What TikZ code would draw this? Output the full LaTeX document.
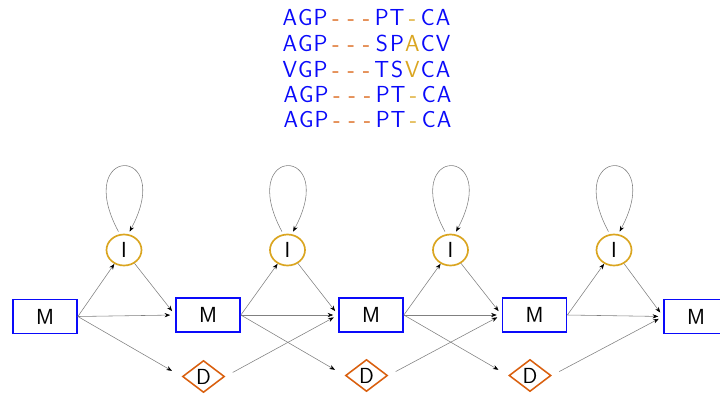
\documentclass[tikz,border=0pt]{standalone}
\usepackage{tikz}
\usetikzlibrary{shapes.geometric,arrows.meta}

\definecolor{matchblue}{RGB}{10,10,250}
\definecolor{delorange}{RGB}{217,95,14}
\definecolor{insgold}{RGB}{218,165,32}

% one column of the alignment, in blue, orange or gold
\def\seqB#1{\makebox[0.3825cm][c]{\color{matchblue}#1}}
\def\seqO#1{\makebox[0.3825cm][c]{\color{delorange}#1}}
\def\seqG#1{\makebox[0.3825cm][c]{\color{insgold}#1}}

\tikzset{
	alnrow/.style={font=\sffamily\fontsize{16.5}{19}\selectfont, inner sep=0pt},
	mstate/.style={draw=matchblue, line width=1.2pt, minimum width=1.6cm, minimum height=0.85cm, inner sep=0pt, font=\sffamily\fontsize{15.5}{18}\selectfont},
	istate/.style={ellipse, draw=insgold, line width=1.2pt, minimum width=0.875cm, minimum height=0.775cm, inner sep=0pt, font=\sffamily\fontsize{15.5}{18}\selectfont},
	dstate/.style={diamond, draw=delorange, line width=1.1pt, minimum width=1.05cm, minimum height=0.8cm, inner sep=0pt, font=\sffamily\fontsize{15.5}{18}\selectfont},
	trans/.style={draw=black!50, line width=0.4pt, -{Stealth[length=4pt, width=3pt, color=black]}},
	tomatch/.style={trans, shorten >=3.5pt},
	todel/.style={trans, shorten >=8pt},
	fromdel/.style={trans, shorten <=6pt, shorten >=3.5pt},
}

\begin{document}
\begin{tikzpicture}[x=0.025cm, y=-0.025cm]
			%%%%% START %%%%%
			\useasboundingbox (0, 0) rectangle (720, 394);
			
			\node[alnrow] (row1) at (366.5, 17.5) {\seqB{A}\seqB{G}\seqB{P}\seqO{-}\seqO{-}\seqO{-}\seqB{P}\seqB{T}\seqG{-}\seqB{C}\seqB{A}};
			\node[alnrow] (row2) at (366.5, 43) {\seqB{A}\seqB{G}\seqB{P}\seqO{-}\seqO{-}\seqO{-}\seqB{S}\seqB{P}\seqG{A}\seqB{C}\seqB{V}};
			\node[alnrow] (row3) at (366.5, 69) {\seqB{V}\seqB{G}\seqB{P}\seqO{-}\seqO{-}\seqO{-}\seqB{T}\seqB{S}\seqG{V}\seqB{C}\seqB{A}};
			\node[alnrow] (row4) at (367.5, 95) {\seqB{A}\seqB{G}\seqB{P}\seqO{-}\seqO{-}\seqO{-}\seqB{P}\seqB{T}\seqG{-}\seqB{C}\seqB{A}};
			\node[alnrow] (row5) at (367.5, 119.5) {\seqB{A}\seqB{G}\seqB{P}\seqO{-}\seqO{-}\seqO{-}\seqB{P}\seqB{T}\seqG{-}\seqB{C}\seqB{A}};
			
			\node[mstate] (m1) at (45, 316.5) {M};
			\node[mstate] (m2) at (208, 315) {M};
			\node[mstate] (m3) at (371, 315) {M};
			\node[mstate] (m4) at (534.5, 315) {M};
			\node[mstate] (m5) at (696, 316.5) {M};
			
			\node[istate] (i1) at (124, 250) {I};
			\node[istate] (i2) at (287.5, 250) {I};
			\node[istate] (i3) at (450.5, 250) {I};
			\node[istate] (i4) at (614, 250) {I};
			
			\node[dstate] (d1) at (203.5, 376.5) {D};
			\node[dstate] (d2) at (366.5, 375.5) {D};
			\node[dstate] (d3) at (530, 375.5) {D};
			
			\draw[trans] (m1.east) -- (i1);
			\draw[tomatch] (i1) -- (m2.west);
			\draw[tomatch] (m1.east) -- (m2.west);
			\draw[todel] (m1.east) -- (d1.west);
			\draw[fromdel] (d1.east) -- (m3.west);
			\draw[trans, shorten <=2pt, shorten >=2pt] (i1.105) .. controls +(-48, -90) and +(48, -90) .. (i1.75);
			
			\draw[trans] (m2.east) -- (i2);
			\draw[tomatch] (i2) -- (m3.west);
			\draw[tomatch] (m2.east) -- (m3.west);
			\draw[todel] (m2.east) -- (d2.west);
			\draw[fromdel] (d2.east) -- (m4.west);
			\draw[trans, shorten <=2pt, shorten >=2pt] (i2.105) .. controls +(-48, -90) and +(48, -90) .. (i2.75);
			
			\draw[trans] (m3.east) -- (i3);
			\draw[tomatch] (i3) -- (m4.west);
			\draw[tomatch] (m3.east) -- (m4.west);
			\draw[todel] (m3.east) -- (d3.west);
			\draw[fromdel] (d3.east) -- (m5.west);
			\draw[trans, shorten <=2pt, shorten >=2pt] (i3.105) .. controls +(-48, -90) and +(48, -90) .. (i3.75);
			
			\draw[trans] (m4.east) -- (i4);
			\draw[tomatch] (i4) -- (m5.west);
			\draw[tomatch] (m4.east) -- (m5.west);
			\draw[trans, shorten <=2pt, shorten >=2pt] (i4.105) .. controls +(-48, -90) and +(48, -90) .. (i4.75);
			
			%%%%% END %%%%%
		\end{tikzpicture}
\end{document}
